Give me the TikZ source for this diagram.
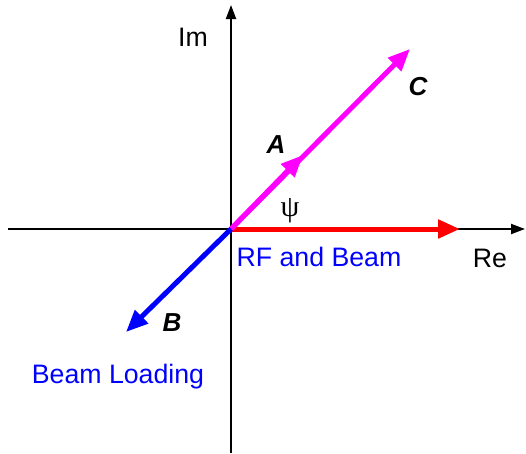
\documentclass[tikz,border=0pt]{standalone}
\usepackage{fontspec}
\setmainfont{Liberation Sans}
\newfontfamily\greekserif{Liberation Serif}
\usetikzlibrary{arrows.meta}
\definecolor{phasemag}{RGB}{255,0,255}

\begin{document}
\begin{tikzpicture}[x=1pt,y=-1pt,every node/.style={font=\fontsize{26.7}{30}\selectfont,inner sep=0pt},
  axis/.style={line width=2pt,-{Triangle[length=14pt,width=10pt]}},
  phasor/.style={line width=5pt,-{Triangle[length=22pt,width=18pt]}},
  lbl/.style={font=\fontsize{26}{30}\selectfont\bfseries\itshape}]
\useasboundingbox (0,0) rectangle (526,453);
\coordinate (O) at (231,229);
\coordinate (west) at (8,229);
\coordinate (east) at (525,229);
\coordinate (south) at (231,453);
\coordinate (north) at (231,5);
\coordinate (rf) at (460,229);
\coordinate (amid) at (303,155);
\coordinate (c) at (410,49);
\coordinate (b) at (126,332);
\draw[axis] (west) -- (east);
\draw[axis] (south) -- (north);
\draw[phasor,red] (O) -- (rf);
\draw[phasor,phasemag] (O) -- (c);
\draw[phasor,phasemag] (O) -- (amid);
\draw[phasor,blue] (O) -- (b);
\node (im) at (193,37) {Im};
\node (re) at (490,258) {Re};
\node[lbl] (la) at (276,145) {A};
\node[lbl] (lc) at (418,87) {C};
\node[lbl] (lb) at (172,323) {B};
\node[font=\fontsize{30}{34}\selectfont\greekserif] (psi) at (290,211) {ψ};
\node[blue] (rfb) at (319,257) {RF and Beam};
\node[blue] (bl) at (118,377) {Beam Loading};
\end{tikzpicture}
\end{document}
